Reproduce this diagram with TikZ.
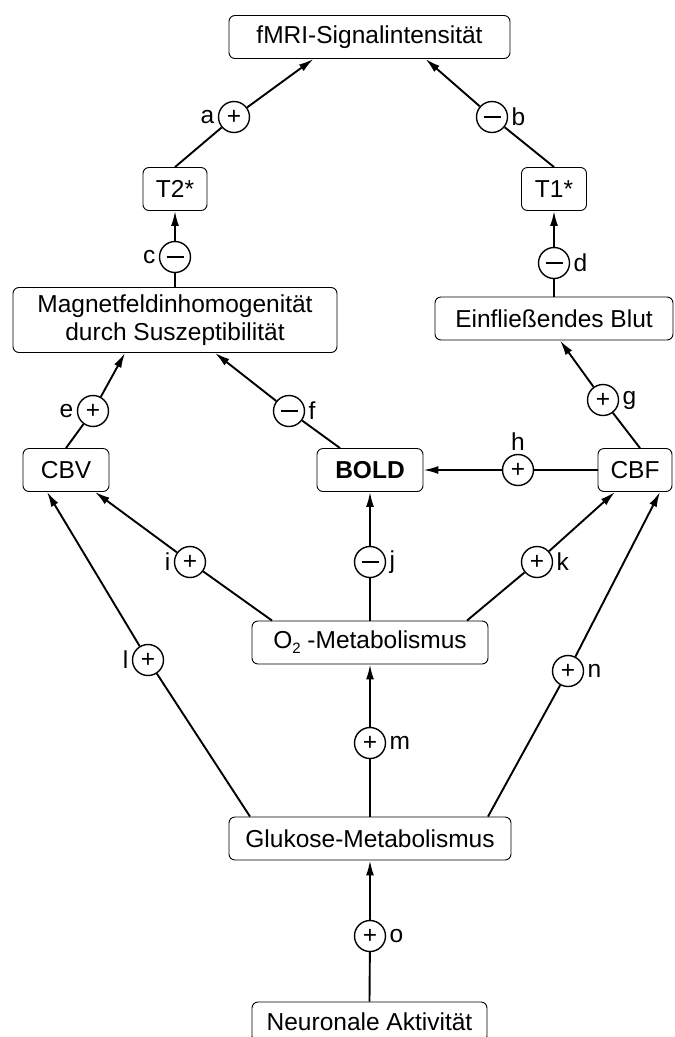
\documentclass[tikz,border=0pt]{standalone}
\usepackage{fontspec}
\setmainfont{Liberation Sans}
\usetikzlibrary{arrows.meta}
\newcommand{\vzminus}{\rule{17pt}{1.6pt}}
\tikzset{
  kasten/.style={draw, rounded corners=6pt, line width=0.9pt, inner sep=0pt, minimum height=43pt, align=center},
  vz/.style={draw, circle, line width=1.4pt, minimum size=31pt, inner sep=0pt, label distance=3pt},
  linie/.style={line width=1.9pt},
  pfeil/.style={line width=1.9pt, -{Latex[length=15pt,width=8pt]}},
}

\begin{document}
\begin{tikzpicture}[x=1pt, y=-1pt, font=\fontsize{24.5}{28}\selectfont]
    \useasboundingbox (0,0) rectangle (675,1037);
    % Kaesten
    \node[kasten, minimum width=281pt] (sig) at (369.5,37) {fMRI-Signalintensität};
    \node[kasten, minimum width=64pt] (t2) at (175,189) {T2*};
    \node[kasten, minimum width=65pt] (t1) at (554,189) {T1*};
    \node[kasten, minimum width=324pt, minimum height=65pt] (mag) at (175,320) {Magnetfeldinhomogenität\\durch Suszeptibilität};
    \node[kasten, minimum width=238pt] (blut) at (554,318.5) {Einfließendes Blut};
    \node[kasten, minimum width=86pt] (cbv) at (66,470) {CBV};
    \node[kasten, minimum width=106pt] (bold) at (370,470) {\textbf{BOLD}};
    \node[kasten, minimum width=74pt] (cbf) at (635,470) {CBF};
    \node[kasten, minimum width=236pt] (o2) at (370,642.5) {O\raisebox{-5pt}{\fontsize{15}{15}\selectfont 2} -Metabolismus};
    \node[kasten, minimum width=282pt] (glu) at (370,838.5) {Glukose-Metabolismus};
    \node[kasten, minimum width=235pt, minimum height=40pt] (neu) at (369.5,1022) {Neuronale Aktivität};
    % Vorzeichen
    \node[vz, label=left:a] (a) at (234,117) {+};
    \node[vz, label=right:b] (b) at (492,117) {\vzminus};
    \node[vz, label=left:c] (c) at (175,257) {\vzminus};
    \node[vz, label=right:d] (d) at (554,263) {\vzminus};
    \node[vz, label=left:e] (e) at (93,411) {+};
    \node[vz, label=right:f] (f) at (289,411) {\vzminus};
    \node[vz, label=right:g] (g) at (603,400) {+};
    \node[vz, label=above:h] (h) at (518,470) {+};
    \node[vz, label=left:i] (i) at (190,562) {+};
    \node[vz, label=right:j] (j) at (370,562) {\rule{17pt}{2.6pt}};
    \node[vz, label=right:k] (k) at (537,562) {+};
    \node[vz, label=left:l] (l) at (148,660) {+};
    \node[vz, label=right:m] (m) at (370,743) {+};
    \node[vz, label=right:n] (n) at (568,671) {+};
    \node[vz, label=right:o] (o) at (370,936) {+};
    % Verbindungen
    \draw[linie] (t2.north) -- (a);
    \draw[pfeil] (a) -- ([xshift=-56pt]sig.south);
    \draw[linie] (t1.north) -- (b);
    \draw[pfeil] (b) -- ([xshift=56pt]sig.south);
    \draw[linie] (mag.north) -- (c);
    \draw[pfeil] (c) -- (t2.south);
    \draw[linie] (blut.north) -- (d);
    \draw[pfeil] (d) -- (t1.south);
    \draw[linie] (cbv.north) -- (e);
    \draw[pfeil] (e) -- ([xshift=-50pt]mag.south);
    \draw[linie] ([xshift=-30pt]bold.north) -- (f);
    \draw[pfeil] (f) -- ([xshift=40pt]mag.south);
    \draw[linie] ([xshift=5pt]cbf.north) -- (g);
    \draw[pfeil] (g) -- ([xshift=6pt]blut.south);
    \draw[linie] (cbf.west) -- (h);
    \draw[pfeil] (h) -- (bold.east);
    \draw[linie] ([xshift=-98pt]o2.north) -- (i);
    \draw[pfeil] (i) -- ([xshift=29pt]cbv.south);
    \draw[linie] (o2.north) -- (j);
    \draw[pfeil] (j) -- (bold.south);
    \draw[linie] ([xshift=97pt]o2.north) -- (k);
    \draw[pfeil] (k) -- ([xshift=-20pt]cbf.south);
    \draw[linie] ([xshift=-120pt]glu.north) -- (l);
    \draw[pfeil] (l) -- ([xshift=-19pt]cbv.south);
    \draw[linie] (glu.north) -- (m);
    \draw[pfeil] (m) -- (o2.south);
    \draw[linie] ([xshift=118pt]glu.north) -- (n);
    \draw[pfeil] (n) -- ([xshift=25pt]cbf.south);
    \draw[linie] (neu.north) -- (o);
    \draw[pfeil] (o) -- (glu.south);
\end{tikzpicture}
\end{document}
